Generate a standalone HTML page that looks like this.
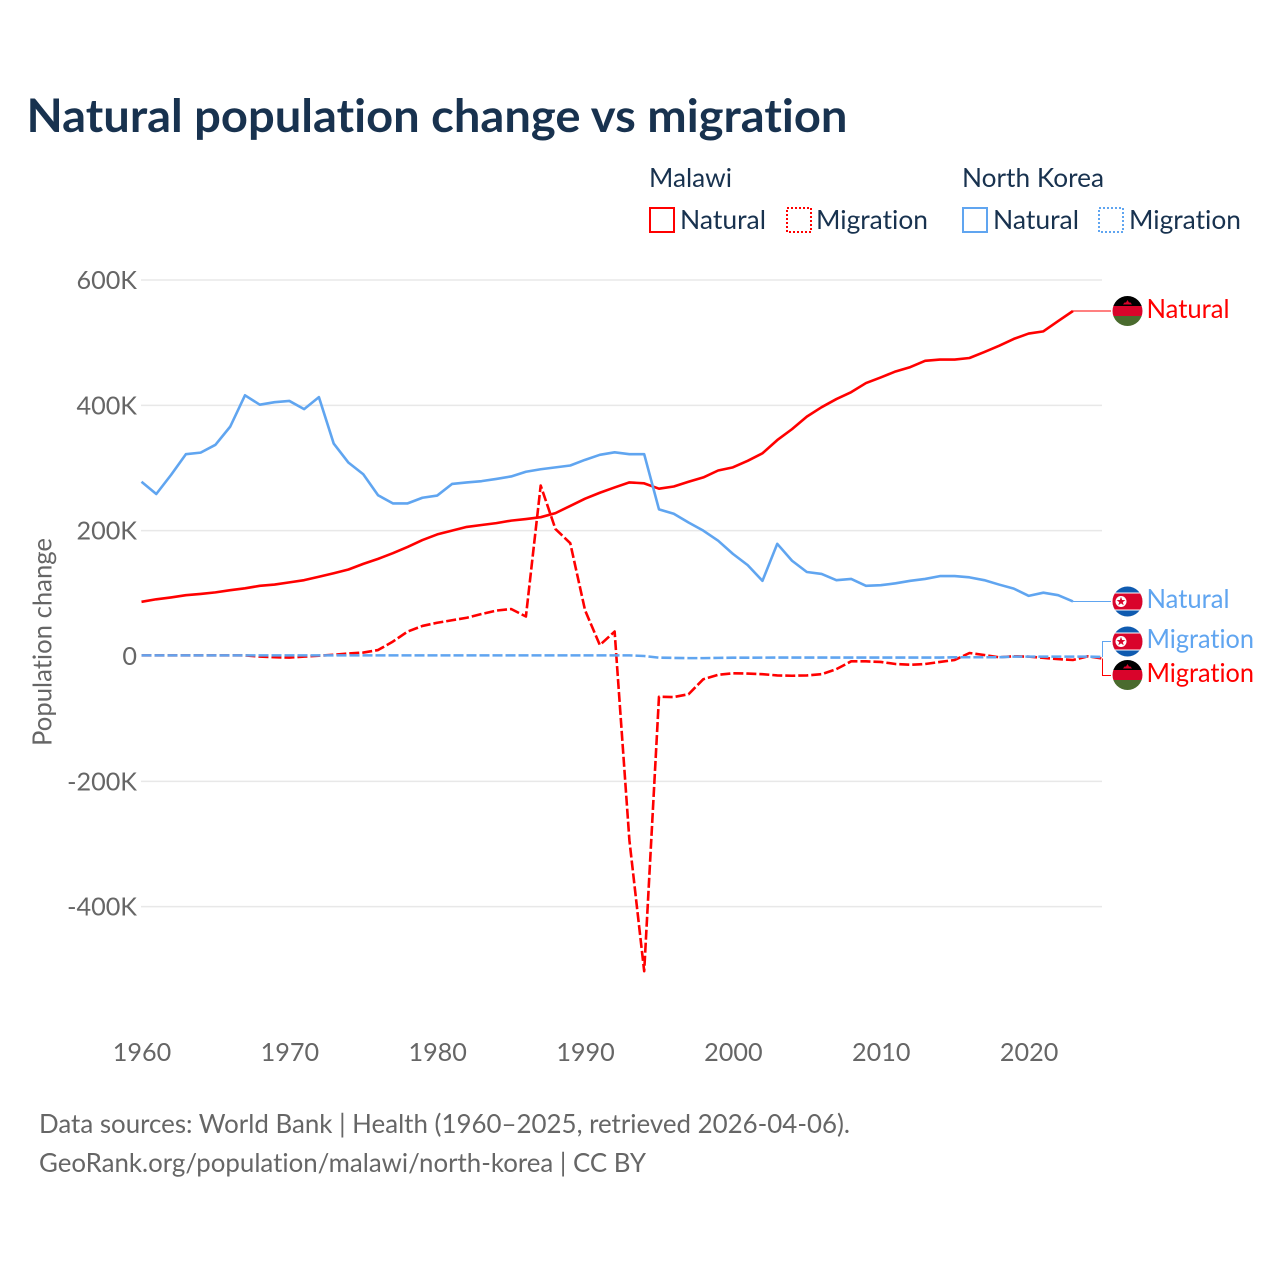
<!DOCTYPE html>
<html lang="en">
<head>
<meta charset="utf-8">
<title>Natural population change vs migration</title>
<style>
html,body{margin:0;padding:0;background:#fff;}
svg{display:block;}
text{font-family:"Lato","Carlito","Liberation Sans",sans-serif;font-variant-ligatures:none;font-feature-settings:"liga" 0,"clig" 0;}
</style>
</head>
<body>
<svg id="chart" xmlns="http://www.w3.org/2000/svg" width="1280" height="1280" viewBox="0 0 1280 1280">
  <defs>
    <clipPath id="flag-clip"><circle cx="0" cy="0" r="15"/></clipPath>
    <g id="flag-malawi" clip-path="url(#flag-clip)">
      <rect x="-15" y="-15" width="30" height="10" fill="#000"/>
      <rect x="-15" y="-5" width="30" height="10" fill="#d9042b"/>
      <rect x="-15" y="5" width="30" height="10" fill="#4a6b2e"/>
      <path d="M-4.5 -6.5 L4.5 -6.5 L3 -8.5 L1.5 -8.5 L0 -11 L-1.5 -8.5 L-3 -8.5 Z" fill="#d9042b"/>
    </g>
    <g id="flag-nk" clip-path="url(#flag-clip)">
      <rect x="-15" y="-15" width="30" height="30" fill="#0f5bb0"/>
      <rect x="-15" y="-9" width="30" height="18" fill="#fff"/>
      <rect x="-15" y="-8" width="30" height="16" fill="#d9042b"/>
      <circle cx="-6.5" cy="0" r="5.5" fill="#fff"/>
      <path d="M-6.5 -4.6 L-5.4 -1.5 L-2.1 -1.4 L-4.7 0.6 L-3.8 3.7 L-6.5 1.9 L-9.2 3.7 L-8.3 0.6 L-10.9 -1.4 L-7.6 -1.5 Z" fill="#d9042b"/>
    </g>
  </defs>

  <text x="26.5" y="132" font-size="46" font-weight="700" fill="#18324f" textLength="821" lengthAdjust="spacingAndGlyphs">Natural population change vs migration</text>

  <g font-size="26" fill="#18324f">
    <text x="649" y="187" textLength="83" lengthAdjust="spacingAndGlyphs">Malawi</text>
    <text x="962" y="187" textLength="142" lengthAdjust="spacingAndGlyphs">North Korea</text>
    <rect x="650" y="208" width="24" height="24" fill="none" stroke="#ff0000" stroke-width="2"/>
    <text x="680" y="229" textLength="86" lengthAdjust="spacingAndGlyphs">Natural</text>
    <rect x="787" y="208" width="24" height="24" fill="none" stroke="#ff0000" stroke-width="2" stroke-dasharray="2 2"/>
    <text x="816" y="229" textLength="112" lengthAdjust="spacingAndGlyphs">Migration</text>
    <rect x="963" y="208" width="24" height="24" fill="none" stroke="#60a5f0" stroke-width="2"/>
    <text x="993" y="229" textLength="86" lengthAdjust="spacingAndGlyphs">Natural</text>
    <rect x="1099" y="208" width="24" height="24" fill="none" stroke="#60a5f0" stroke-width="2" stroke-dasharray="2 2"/>
    <text x="1129" y="229" textLength="112" lengthAdjust="spacingAndGlyphs">Migration</text>
  </g>

  <text transform="translate(51.5 642) rotate(-90)" text-anchor="middle" font-size="26" fill="#666" textLength="208" lengthAdjust="spacingAndGlyphs">Population change</text>

  <g id="grid"></g>
  <g id="y-ticks"></g>
  <g id="x-ticks"></g>
  <g id="series"></g>

  <g font-size="26">
    <g id="leaders"></g>
    <use href="#flag-malawi" x="1127.5" y="311"/>
    <text x="1146.5" y="318" fill="#ff0000" textLength="83" lengthAdjust="spacingAndGlyphs">Natural</text>
    <use href="#flag-nk" x="1127.5" y="601.5"/>
    <text x="1146.5" y="608" fill="#60a5f0" textLength="83" lengthAdjust="spacingAndGlyphs">Natural</text>
    <use href="#flag-nk" x="1127.5" y="641.5"/>
    <text x="1146.5" y="648" fill="#60a5f0" textLength="107.5" lengthAdjust="spacingAndGlyphs">Migration</text>
    <use href="#flag-malawi" x="1127.5" y="675"/>
    <text x="1146.5" y="682" fill="#ff0000" textLength="107.5" lengthAdjust="spacingAndGlyphs">Migration</text>
  </g>

  <g font-size="26" fill="#666">
    <text x="39" y="1133" textLength="811" lengthAdjust="spacingAndGlyphs">Data sources: World Bank | Health (1960–2025, retrieved 2026-04-06).</text>
    <text x="39" y="1172" textLength="607" lengthAdjust="spacingAndGlyphs">GeoRank.org/population/malawi/north-korea | CC BY</text>
  </g>
</svg>
<script>
// Values are in thousands of people, starting at firstYear.
const firstYear = 1960;
const xTickYears = [1960, 1970, 1980, 1990, 2000, 2010, 2020];
const yTickValues = [600, 400, 200, 0, -200, -400];
const yTickLabels = ['600K', '400K', '200K', '0', '-200K', '-400K'];

const malawiNatural = [86.5,90.5,93.5,97,99,101.5,105,108,112,114,117.5,121,126.5,132,138,147,155,164,174,185,194,200,206,209,212,216,218.5,221.5,228,239.5,251,260.5,269,277,275.5,267,270.5,278,285,296,301,311.5,323.5,344.5,362,382,397,410,421,435.5,444.5,454,461,471,473,473,475.5,485,495,506,514.5,518,534.5,550.5];
const northKoreaNatural = [278,258.5,289,322,324.5,337,366,416,401,405,407,394,413,339,308.5,290,256.5,243.5,243.5,252.5,256,274.5,277,279,282.5,286.5,294,298,301,304,313,321,325,322,322,234,227,213,200,184,163,145,120,179,152,134,131,121,123,112,113,116,120,123,127.5,127.5,125.5,121,114,107.5,96,101,97,87];
const malawiMigration = [1,1,1,1,1,1,1,1,-1,-2,-2.5,-1,0.5,2,4,5.5,9.5,23,39,48,53,57,61,67,72.5,75,63,272,202.5,180,73,17.5,39,-294,-503,-65,-65.5,-61,-37,-30,-27.6,-28,-29,-31,-31.5,-31,-29,-21,-8.5,-8.5,-9.5,-12.8,-14,-12.8,-9.5,-6.4,4.8,1.6,-2,-0.5,-1,-3,-5,-6.4,-0.5,-4];
const northKoreaMigration = [1,1,1,1,1,1,1,1,1,1,1,1,1,1,1,1,1,1,1,1,1,1,1,1,1,1,1,1,1,1,1,1,1,1,0,-2.7,-3,-3.4,-3.4,-3,-2.7,-2.7,-2.6,-2.5,-2.5,-2.5,-2.5,-2.5,-2.5,-2.5,-2.5,-2.5,-2.5,-2.5,-2.5,-2,-2,-2,-2,-1,-1,-1,-1,-1,-1,-1.5];

const SVG_NS = 'http://www.w3.org/2000/svg';
const RED = '#ff0000';
const BLUE = '#60a5f0';

function xScale(year) { return 141.5 + (year - 1960) * 14.785; }
function yScale(value) { return 656 - value * 0.6267; }

function pathFrom(values) {
  return values.map(function (v, i) {
    return (i ? 'L' : 'M') + xScale(firstYear + i).toFixed(2) + ' ' + yScale(v).toFixed(2);
  }).join(' ');
}

const grid = document.getElementById('grid');
const yTicks = document.getElementById('y-ticks');
const xTicks = document.getElementById('x-ticks');
const seriesGroup = document.getElementById('series');
const leaders = document.getElementById('leaders');

yTickValues.forEach(function (v, i) {
  if (v !== 0) {
    const line = document.createElementNS(SVG_NS, 'line');
    
    
    line.setAttribute('x1', 141);
    line.setAttribute('x2', 1102);
    line.setAttribute('y1', yScale(v));
    line.setAttribute('y2', yScale(v));
    line.setAttribute('stroke', '#e8e8e8');
    line.setAttribute('stroke-width', '1.5');
    grid.appendChild(line);
  }
  const label = document.createElementNS(SVG_NS, 'text');
  
  
  label.setAttribute('x', 137);
  label.setAttribute('y', yScale(v) + 9);
  label.setAttribute('text-anchor', 'end');
  label.setAttribute('font-size', '25.2');
  label.setAttribute('fill', '#666');
  label.textContent = yTickLabels[i];
  yTicks.appendChild(label);
});

xTickYears.forEach(function (year) {
  const label = document.createElementNS(SVG_NS, 'text');
  
  
  label.setAttribute('x', xScale(year) + 0.5);
  label.setAttribute('y', 1061);
  label.setAttribute('text-anchor', 'middle');
  label.setAttribute('font-size', '25.2');
  label.setAttribute('fill', '#666');
  label.textContent = String(year);
  xTicks.appendChild(label);
});

function addLine(values, color, dashed, name) {
  const p = document.createElementNS(SVG_NS, 'path');
  
  
  p.setAttribute('d', pathFrom(values));
  p.setAttribute('fill', 'none');
  p.setAttribute('stroke', color);
  p.setAttribute('stroke-width', '2.6');
  p.setAttribute('stroke-linejoin', 'round');
  if (dashed) p.setAttribute('stroke-dasharray', '10 3');
  seriesGroup.appendChild(p);
}

addLine(malawiMigration, RED, true, 'line-malawi-migration');
addLine(malawiNatural, RED, false, 'line-malawi-natural');
addLine(northKoreaMigration, BLUE, true, 'line-north-korea-migration');
addLine(northKoreaNatural, BLUE, false, 'line-north-korea-natural');

function addLeader(d, color, name) {
  const p = document.createElementNS(SVG_NS, 'path');
  
  
  p.setAttribute('d', d);
  p.setAttribute('fill', 'none');
  p.setAttribute('stroke', color);
  p.setAttribute('stroke-width', '1');
  p.setAttribute('shape-rendering', 'crispEdges');
  leaders.appendChild(p);
}

function lastY(values) { return yScale(values[values.length - 1]); }
function lastX(values) { return xScale(firstYear + values.length - 1); }

addLeader('M' + lastX(malawiNatural) + ' ' + lastY(malawiNatural) + ' H1111', RED, 'leader-malawi-natural');
addLeader('M' + lastX(northKoreaNatural) + ' ' + lastY(northKoreaNatural) + ' H1111', BLUE, 'leader-north-korea-natural');
addLeader('M' + lastX(malawiMigration) + ' ' + lastY(malawiMigration) + ' V675.5 H1111', RED, 'leader-malawi-migration');
addLeader('M' + lastX(northKoreaMigration) + ' ' + lastY(northKoreaMigration) + ' V641.5 H1111', BLUE, 'leader-north-korea-migration');
</script>
</body>
</html>
